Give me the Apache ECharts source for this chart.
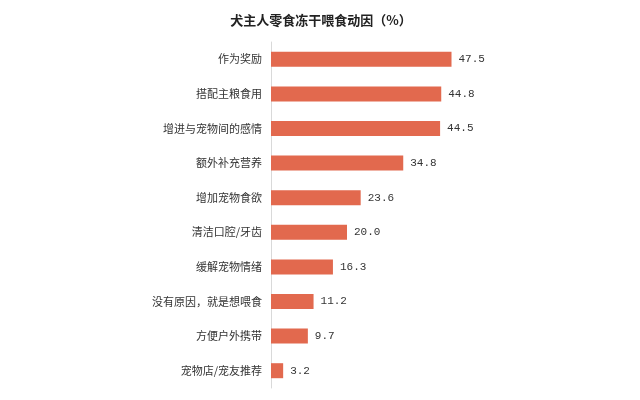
<!DOCTYPE html>
<html><head><meta charset="utf-8">
<script src="https://cdn.jsdelivr.net/npm/echarts@6/dist/echarts.min.js"></script>
<style>html,body{margin:0;padding:0;background:#fff}#c{width:640px;height:400px}</style>
</head><body><div id="c"></div>
<script>
const title = '犬主人零食冻干喂食动因（%）';
const categories = ['作为奖励','搭配主粮食用','增进与宠物间的感情','额外补充营养','增加宠物食欲','清洁口腔/牙齿','缓解宠物情绪','没有原因，就是想喂食','方便户外携带','宠物店/宠友推荐'];
const values = [47.5,44.8,44.5,34.8,23.6,20.0,16.3,11.2,9.7,3.2];
const font = '"Noto Sans CJK SC", sans-serif';
const chart = echarts.init(document.getElementById('c'), null, {renderer:'canvas'});
chart.setOption({
  animation:false,
  backgroundColor:'#fff',
  title:{text:title,left:316,textAlign:'center',top:9,textStyle:{fontFamily:font,fontSize:13,fontWeight:'bold',color:'#222'}},
  grid:{left:271,top:42,width:190,height:346,containLabel:false},
  xAxis:{type:'value',min:0,max:50,show:false},
  yAxis:{type:'category',inverse:true,data:categories,
    axisLine:{show:true,lineStyle:{color:'#d9d9d9',width:1}},
    axisTick:{show:false},
    axisLabel:{fontFamily:font,fontSize:11,color:'#333',margin:9}},
  series:[{type:'bar',data:values,barWidth:15,
    itemStyle:{color:'#e2694e'},
    label:{show:true,position:'right',distance:7,fontFamily:'"Liberation Mono", monospace',fontSize:11,color:'#333',
      formatter:p=>p.value.toFixed(1)}}]
});
</script></body></html>
